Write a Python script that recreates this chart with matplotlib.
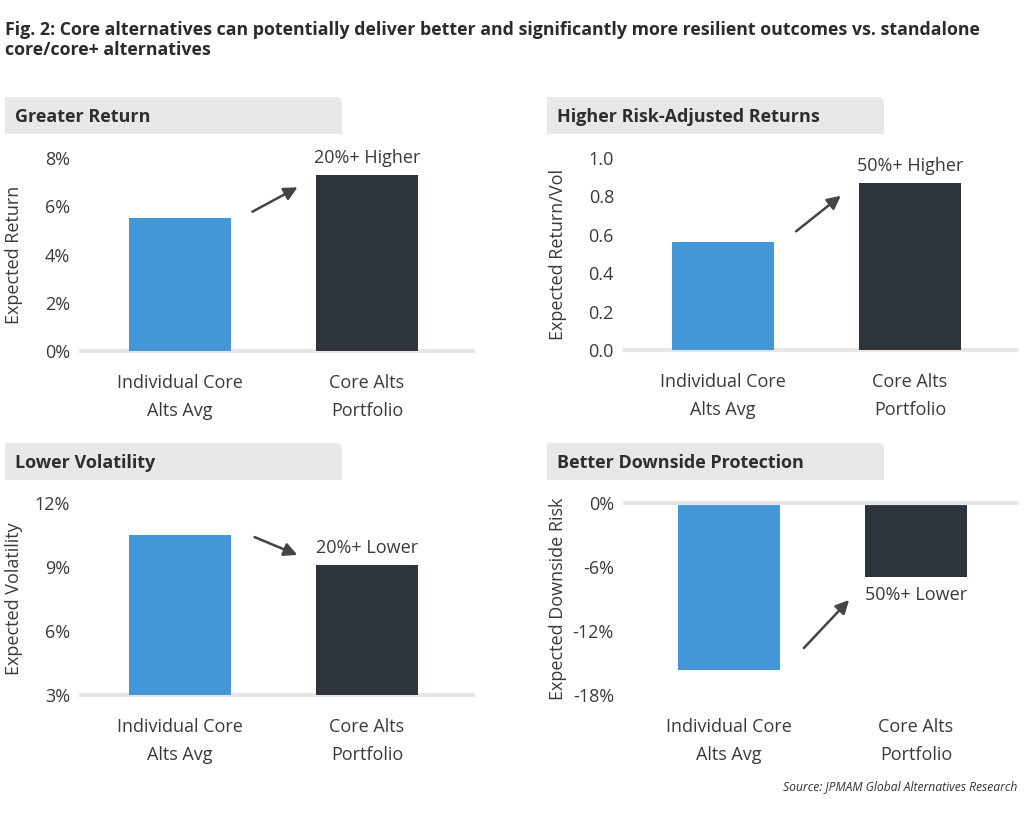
import matplotlib
matplotlib.use('Agg')
import matplotlib.pyplot as plt
from matplotlib.path import Path
from matplotlib.patches import PathPatch
import numpy as np

plt.rcParams['font.family'] = ['Open Sans', 'DejaVu Sans']

W, H = 1024, 813

categories = ['Individual Core\nAlts Avg', 'Core Alts\nPortfolio']
expected_return = [5.5, 7.3]
return_per_vol = [0.56, 0.87]
expected_vol = [10.5, 9.1]
downside_risk = [-15.7, -6.9]

panel_titles = ['Greater Return', 'Higher Risk-Adjusted Returns',
                'Lower Volatility', 'Better Downside Protection']
y_labels = ['Expected Return', 'Expected Return/Vol',
            'Expected Volatility', 'Expected Downside Risk']
callouts = ['20%+ Higher', '50%+ Higher', '20%+ Lower', '50%+ Lower']
y_ticks = [[0, 2, 4, 6, 8], [0.0, 0.2, 0.4, 0.6, 0.8, 1.0],
           [3, 6, 9, 12], [-18, -12, -6, 0]]
tick_fmt = ['{:.0f}%', '{:.1f}', '{:.0f}%', '{:.0f}%']
series = [expected_return, return_per_vol, expected_vol, downside_risk]

BLUE = '#4397d7'
DARK = '#2e343b'
TEXT = '#3a3a3a'
GRID = '#e6e6e6'
FS = 13

# layout in pixels: axes left, right, top, bottom, header left/top, xlim, ylabel x
layout = [
    dict(ax=(81, 473, 158, 351), hdr=(5, 97), xlim=(-0.53, 1.567), ylbl=23),
    dict(ax=(625, 1016, 158, 350), hdr=(547, 97), xlim=(-0.524, 1.567), ylbl=567),
    dict(ax=(81, 473, 503, 695), hdr=(5, 443), xlim=(-0.53, 1.567), ylbl=23),
    dict(ax=(625, 1016, 503, 695), hdr=(547, 443), xlim=(-0.556, 1.535), ylbl=567),
]
arrows = [((250, 213), (300, 186)), ((794, 233), (843, 194)),
          ((252, 536), (300, 556)), ((802, 650), (851, 598))]


def fx(x):
    return x / W


def fy(y):
    return 1 - y / H


def header_box(fig, x0, y0, w=337, h=37, r=6):
    # rectangle with rounded top-right corner, in pixels
    verts = [(x0, y0 + h), (x0, y0), (x0 + w - r, y0),
             (x0 + w, y0), (x0 + w, y0 + r), (x0 + w, y0 + h), (x0, y0 + h)]
    codes = [Path.MOVETO, Path.LINETO, Path.LINETO, Path.CURVE3, Path.CURVE3,
             Path.LINETO, Path.CLOSEPOLY]
    verts = [(fx(a), fy(b)) for a, b in verts]
    patch = PathPatch(Path(verts, codes), facecolor='#e8e8e8', edgecolor='none',
                      transform=fig.transFigure)
    fig.patches.append(patch)


fig = plt.figure(figsize=(W / 100, H / 100), dpi=100)

fig.text(fx(5), fy(40), 'Fig. 2: Core alternatives can potentially deliver better and '
         'significantly more resilient outcomes vs. standalone\ncore/core+ alternatives',
         fontsize=12.75, fontweight='bold', color='#2b2b2b', ha='left', va='center',
         linespacing=1.2)

for i, cfg in enumerate(layout):
    l, r, t, b = cfg['ax']
    ax = fig.add_axes([fx(l), fy(b), (r - l) / W, (b - t) / H])
    vals = series[i]
    x = np.arange(len(categories))
    ax.bar(x, vals, width=0.545, color=[BLUE, DARK], zorder=2)
    ax.set_xlim(*cfg['xlim'])
    ax.set_ylim(min(y_ticks[i]), max(y_ticks[i]))
    ax.set_yticks(y_ticks[i])
    ax.set_yticklabels([tick_fmt[i].format(v) for v in y_ticks[i]])
    ax.set_xticks(x)
    ax.set_xticklabels(categories, linespacing=1.75)
    for s in ax.spines.values():
        s.set_visible(False)
    ax.tick_params(axis='both', length=0, labelsize=FS, colors=TEXT)
    ax.tick_params(axis='y', pad=8)
    ax.tick_params(axis='x', pad=16.5)
    base = 0 if i == 3 else min(y_ticks[i])
    ax.axhline(base, color=GRID, lw=3, zorder=3 if i == 3 else 1, clip_on=False)

    ax.set_ylabel(y_labels[i], fontsize=FS, color=TEXT)
    ax.yaxis.set_label_coords(fx(cfg['ylbl']), (fy((t + b) / 2)), transform=fig.transFigure)

    # callout text above or below the portfolio bar
    off = 12.5 if vals[1] >= 0 else -13
    ax.annotate(callouts[i], xy=(1, vals[1]), xytext=(0, off), textcoords='offset points',
                ha='center', va='center', fontsize=FS, color=TEXT, annotation_clip=False)

    # header
    hx, hy = cfg['hdr']
    header_box(fig, hx, hy)
    fig.text(fx(hx + 10), fy(hy + 20), panel_titles[i], fontsize=13, fontweight='bold',
             color='#2e2e2e', ha='left', va='center')

    (x0, y0), (x1, y1) = arrows[i]
    fig.add_artist(matplotlib.patches.FancyArrowPatch(
        (fx(x0), fy(y0)), (fx(x1), fy(y1)), transform=fig.transFigure,
        arrowstyle='-|>', mutation_scale=20, color='#444444', lw=1.8))

fig.text(fx(1017), fy(787), 'Source: JPMAM Global Alternatives Research', fontsize=8.7,
         style='italic', color='#333333', ha='right', va='center')

fig.savefig('out.png', dpi=100)
